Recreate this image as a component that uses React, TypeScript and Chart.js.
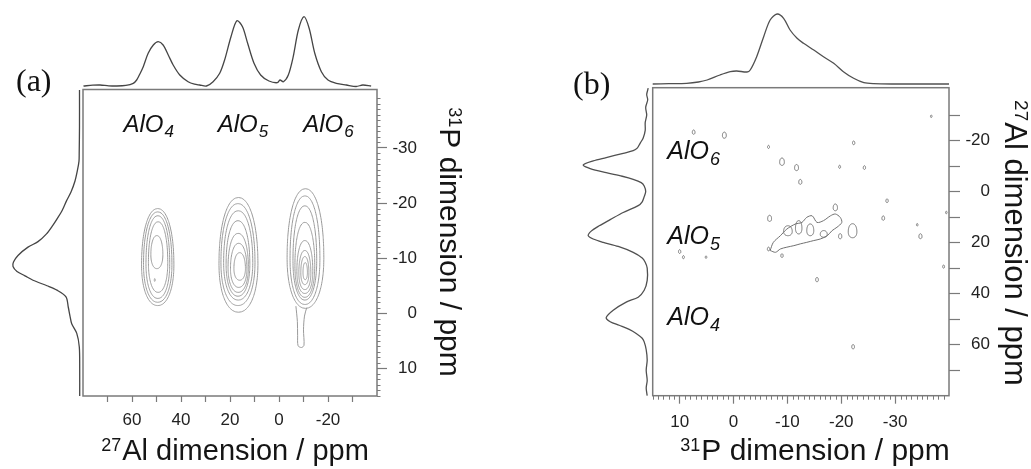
import React, { useEffect, useRef } from 'react';
import { Chart, registerables } from 'chart.js';

Chart.register(...registerables);

const SANS = '"Liberation Sans", Arial, Helvetica, sans-serif';
const SERIF = '"Liberation Serif", "Times New Roman", Times, serif';

// ---------- Panel (a): 27Al (x) vs 31P (y) ----------
// 27Al projection on top: chemical shift (ppm) and intensity
const A_TOP_PPM = [79.8, 76, 73, 69.5, 66.2, 62.5, 59.5, 58.1, 56.8, 55.4, 53.4, 51.3, 49.3, 47.3, 45.2, 43.2, 40.5, 37.1, 34.5, 32.4, 29.6, 26.9, 24.2, 22.2, 19.6, 17.2, 14.9, 12.8, 10.2, 7.5, 4.1, 0.7, -0.4, -1.8, -3.8, -5.8, -7.9, -10.2, -12.3, -14.6, -17.3, -20, -23.4, -27.5, -31.5, -34.2, -37.6];
const A_TOP_INT = [0, 0.8, 1, 0.2, 0, 0.6, 2.7, 6, 12, 19.3, 32.7, 41, 44.3, 41, 31, 21, 11, 4.3, 1.8, 1, 0, 4.3, 12.7, 26, 49.3, 65.3, 59.3, 42.7, 22.7, 11, 5, 3.3, 6, 4.3, 11, 29.3, 56, 69.3, 57.7, 32.7, 14.3, 6, 2.7, 1, -0.5, 1, 0];

// 31P projection on the left: chemical shift (ppm) and intensity
const A_LEFT_PPM = [-40.5, -34, -29, -27.6, -26, -24, -22, -20.4, -18.8, -17.4, -16, -14.4, -13, -12, -10.5, -9.3, -8.5, -7.6, -6.8, -6, -5, -4.2, -3, -1.1, 0.5, 1.9, 3.6, 6.1, 10, 15];
const A_LEFT_INT = [0.5, 0.5, 0.8, 1, 2.5, 5, 9, 13.5, 17.5, 22, 27, 33.5, 42, 52, 62, 66.5, 67, 63, 55, 47, 33, 23, 14, 11.7, 10, 8.3, 3.3, 0.7, 0.3, 0.3];

// Contour rings: [27Al high edge, 27Al low edge, 31P top edge, 31P bottom edge] in ppm
const A_RINGS_ALO4: [number, number, number, number][] = [
  [56.1, 42.9, -19.0, -1.4],
  [55.3, 43.7, -18.4, -2.0],
  [54.3, 44.6, -17.7, -2.7],
  [53.3, 45.4, -16.6, -3.8],
  [52.3, 47.4, -14.1, -8.1],
  [50.9, 50.5, -6.3, -5.8],
];
const A_RINGS_ALO5: [number, number, number, number][] = [
  [24.5, 8.6, -21.0, -0.2],
  [23.7, 9.8, -19.9, -1.4],
  [22.6, 10.7, -18.6, -2.4],
  [21.6, 11.9, -16.8, -3.1],
  [20.8, 12.5, -14.5, -3.8],
  [19.8, 13.1, -12.7, -4.7],
  [18.4, 13.7, -11.0, -6.0],
];
const A_RINGS_ALO6: [number, number, number, number][] = [
  [-3.3, -18.3, -22.6, -0.9],
  [-4.5, -16.7, -21.3, -1.6],
  [-5.7, -15.4, -19.5, -2.4],
  [-6.5, -14.6, -16.5, -2.9],
  [-7.3, -13.8, -13.2, -3.6],
  [-8.1, -13.0, -11.4, -4.3],
  [-8.9, -12.2, -10.3, -5.2],
  [-9.8, -11.6, -9.2, -6.1],
];
// narrow extension below the AlO6 cross peak
const A_TAIL_X = [-6.9, -7.5, -7.6, -7.8, -9.2, -10.2, -10.0, -10.4, -11.3];
const A_TAIL_Y = [-1.3, 1.5, 4.0, 5.9, 6.2, 5.8, 3.0, 0.5, -1.0];

const A_X_TICKS = [70, 60, 50, 40, 30, 20, 10, 0, -10, -20, -30];
const A_X_LABELS = [60, 40, 20, 0, -20];
const A_Y_TICKS = [-30, -20, -10, 0, 10];
const A_Y_LABELS = [-30, -20, -10, 0, 10];

const A_SITE_SUBS = ['4', '5', '6'];
const A_SITE_X = [63.5, 25, -9.9];
const A_SITE_Y = [-32.8, -32.8, -32.8];

// ---------- Panel (b): 31P (x) vs 27Al (y) ----------
const B_TOP_PPM = [15, 12, 8.7, 6.5, 4.9, 2.5, 0.6, -0.6, -2.5, -3.1, -4.3, -5.6, -6.8, -8.1, -9.3, -10.5, -11.8, -13, -14.9, -16.7, -18.6, -20.4, -22.3, -24.2, -26, -30, -35, -40];
const B_TOP_INT = [0, 0.3, 0.7, 2, 4, 9, 12.3, 13, 12, 14, 27.3, 47.3, 64, 70, 65.7, 54, 45.7, 40.7, 34, 27.3, 20.7, 12.3, 5.7, 1.3, 0.3, 0, 0, 0];

const B_LEFT_PPM = [-40.5, -38, -36, -33, -30, -27, -24, -21, -19, -17, -16, -15, -13.3, -12, -10.4, -9, -7.4, -6, -4.8, -3.5, -2.2, 0, 2, 4, 5.5, 8.2, 11, 13.4, 15.5, 17.3, 18.6, 19.9, 21.5, 23.8, 26, 27.7, 30, 34.8, 38.7, 41.4, 43.3, 46.5, 49.4, 51, 52.4, 54, 55.6, 57.5, 58.9, 62, 66, 70, 74, 77, 80];
const B_LEFT_INT = [0, 1.5, 0.5, 2.5, 1.5, 3, 3, 5, 8, 11, 15, 25, 42, 55, 65, 58, 42, 26, 15, 7, 4, 2.5, 4, 6, 10, 25, 38, 49, 57, 60, 55, 45, 30, 15, 6, 3, 1, 1, 4, 10, 22, 35, 42, 38, 29, 19, 12, 6, 4, 2, 1, 2, 1, 2, 1];

// main cross-peak outline near the AlO5 row (31P ppm, 27Al ppm)
const B_BLOB_X = [-6.8, -7.4, -8.7, -9.9, -11.5, -12.7, -13.6, -14.6, -15.5, -16.7, -18.0, -18.9, -19.8, -20.1, -19.2, -18.3, -17.4, -16.1, -14.9, -13.6, -12.4, -11.2, -9.9, -8.7, -7.8, -6.8];
const B_BLOB_Y = [23.1, 19.9, 17.3, 14.7, 12.7, 12.1, 10.1, 9.5, 12.1, 11.4, 9.5, 8.8, 10.1, 12.1, 14.0, 15.3, 17.3, 18.6, 19.2, 19.9, 20.5, 21.2, 21.8, 22.5, 23.8, 23.1];
// small closed loops inside and beside the cross peak
const B_LOOPS: [number, number, number, number][] = [
  [-9.3, -10.9, 13.4, 17.3],
  [-11.5, -12.7, 11.4, 16.6],
  [-13.6, -14.9, 12.7, 17.3],
  [-16.1, -17.4, 15.3, 17.9],
  [-19.5, -20.1, 16.5, 18.5],
  [-21.3, -22.9, 12.6, 18.1],
];
// isolated noise contours: [31P ppm, 27Al ppm, size]
const B_DOTS: [number, number, number][] = [
  [7.4, -23.3, 0.7], [1.7, -22.1, 1], [-6.5, -17.5, 0.5], [-22.3, -19.1, 0.6], [-36.7, -29.5, 0.4],
  [-9.0, -11.7, 1.2], [-11.7, -9.4, 1], [-19.7, -9.7, 0.5], [-24.3, -9.4, 0.6], [-12.4, -3.8, 0.8],
  [-28.5, 3.6, 0.6], [-27.8, 10.4, 0.7], [-34.1, 13.0, 0.4], [-34.7, 17.5, 0.8], [-39.0, 29.4, 0.5],
  [-15.5, 34.5, 0.7], [-22.2, 60.8, 0.7], [10.0, 23.5, 0.6], [9.3, 25.7, 0.5], [5.1, 25.7, 0.4],
  [-6.5, 22.5, 0.6], [-9.0, 25.1, 0.6], [-39.5, 8.2, 0.4], [-6.7, 10.5, 1], [-18.9, 6.2, 1.1],
];

const B_X_TICKS = [10, 0, -10, -20, -30];
const B_X_LABELS = [10, 0, -10, -20, -30];
const B_Y_TICKS = [-30, -20, -10, 0, 10, 20, 30, 40, 50, 60, 70];
const B_Y_LABELS = [-20, 0, 20, 40, 60];

const B_SITE_SUBS = ['6', '5', '4'];
const B_SITE_X = [12.3, 12.3, 12.3];
const B_SITE_Y = [-12.6, 20.5, 52.4];

// ---------- helpers ----------
type Ring = [number, number, number, number];
type Pt = { x: number; y: number };

// Closed rounded outline through the four extents of a contour ring
function ringPoints(r: Ring): Pt[] {
  const [xHi, xLo, yTop, yBot] = r;
  const cx = (xHi + xLo) / 2;
  const rx = (xHi - xLo) / 2;
  const yc = yBot - 0.42 * (yBot - yTop);
  const ex = 2 / 2.15;
  const pts: Pt[] = [];
  const n = 44;
  for (let i = 0; i <= n; i++) {
    const t = (i / n) * Math.PI * 2;
    const c = Math.cos(t);
    const s = Math.sin(t);
    const ry = s < 0 ? yc - yTop : yBot - yc;
    pts.push({
      x: cx + rx * Math.sign(c) * Math.pow(Math.abs(c), ex),
      y: yc + ry * Math.sign(s) * Math.pow(Math.abs(s), ex),
    });
  }
  return pts;
}

function zip(xs: number[], ys: number[]): Pt[] {
  return xs.map((x, i) => ({ x, y: ys[i] }));
}

function drawSupText(ctx: CanvasRenderingContext2D, t: any) {
  ctx.save();
  ctx.translate(t.x, t.y);
  if (t.rotate) ctx.rotate(Math.PI / 2);
  ctx.fillStyle = '#151515';
  ctx.textBaseline = 'alphabetic';
  ctx.textAlign = 'left';
  ctx.font = `${t.supSize}px ${SANS}`;
  const ws = ctx.measureText(t.sup).width;
  ctx.font = `${t.size}px ${SANS}`;
  const wm = ctx.measureText(t.text).width;
  const x0 = -(ws + t.gap + wm) / 2;
  ctx.font = `${t.supSize}px ${SANS}`;
  ctx.fillText(t.sup, x0, -t.rise);
  ctx.font = `${t.size}px ${SANS}`;
  ctx.fillText(t.text, x0 + ws + t.gap, 0);
  ctx.restore();
}

const decorPlugin = {
  id: 'decor',
  afterDraw(chart: any, _args: any, opts: any) {
    const { ctx, chartArea: a, scales } = chart;
    const xs = scales.x;
    const ys = scales.y;
    ctx.save();
    // plot frame
    ctx.strokeStyle = opts.frameColor;
    ctx.lineWidth = opts.frameWidth;
    ctx.strokeRect(a.left, a.top, a.right - a.left, a.bottom - a.top);

    // minor ticks every 1 ppm
    ctx.lineWidth = 1;
    ctx.strokeStyle = opts.frameColor;
    for (const m of opts.minor) {
      const sc = m.axis === 'x' ? xs : ys;
      for (let v = m.from; v <= m.to; v += 1) {
        if (v % 10 === 0) continue;
        const p = Math.round(sc.getPixelForValue(v)) + 0.5;
        ctx.beginPath();
        if (m.axis === 'x') {
          ctx.moveTo(p, a.bottom);
          ctx.lineTo(p, a.bottom + m.len);
        } else {
          ctx.moveTo(a.right, p);
          ctx.lineTo(a.right + m.len, p);
        }
        ctx.stroke();
      }
    }

    // site labels
    ctx.fillStyle = '#111';
    ctx.textBaseline = 'alphabetic';
    ctx.textAlign = 'left';
    const L = opts.sites;
    for (let i = 0; i < L.subs.length; i++) {
      const px = xs.getPixelForValue(L.x[i]);
      const py = ys.getPixelForValue(L.y[i]);
      ctx.font = `italic ${L.size}px ${SANS}`;
      ctx.fillText('AlO', px, py);
      const w = ctx.measureText('AlO').width;
      ctx.font = `italic ${L.subSize}px ${SANS}`;
      ctx.fillText(L.subs[i], px + w + 1, py + L.drop);
    }

    // axis titles
    for (const t of opts.titles) drawSupText(ctx, t);

    // panel letter
    ctx.font = `${opts.panel.size}px ${SERIF}`;
    ctx.fillStyle = '#111';
    ctx.fillText(opts.panel.text, opts.panel.x, opts.panel.y);
    ctx.restore();
  },
};

const X_AXIS_H = 40;
const CANVAS_H = 469;

function buildConfig(s: any) {
  const W = s.area.right - s.area.left;
  const H = s.area.bottom - s.area.top;
  // a small tension keeps Chart.js on its full path renderer for closed loops
  const contourStyle = {
    xAxisID: 'x',
    yAxisID: 'y',
    showLine: true,
    pointRadius: 0,
    borderColor: s.contourColor,
    borderWidth: 1,
    tension: 0.12,
    fill: false,
  };
  const datasets: any[] = [
    ...s.contours.map((pts: Pt[]) => ({ ...contourStyle, data: pts })),
    ...s.openLines.map((pts: Pt[]) => ({ ...contourStyle, data: pts, tension: 0.3 })),
    {
      data: zip(s.topPpm, s.topInt),
      xAxisID: 'x',
      yAxisID: 'yT',
      showLine: true,
      pointRadius: 0,
      borderColor: s.projColor,
      borderWidth: 1.3,
      tension: 0.3,
      clip: false,
    },
    {
      data: s.leftPpm.map((p: number, i: number) => ({ x: s.leftInt[i], y: p })),
      xAxisID: 'xL',
      yAxisID: 'y',
      showLine: true,
      pointRadius: 0,
      borderColor: s.projColor,
      borderWidth: 1.3,
      tension: 0.3,
      clip: false,
    },
  ];
  const tickFont = { family: SANS, size: 17 };
  return {
    type: 'scatter' as const,
    data: { datasets },
    options: {
      animation: false,
      responsive: false,
      maintainAspectRatio: false,
      devicePixelRatio: 1,
      events: [],
      layout: {
        padding: {
          left: s.area.left,
          top: s.area.top,
          right: s.width - s.area.right - s.yAxisW,
          bottom: CANVAS_H - s.area.bottom - X_AXIS_H,
        },
      },
      plugins: {
        legend: { display: false },
        tooltip: { enabled: false },
        decor: s.decor,
      },
      scales: {
        x: {
          type: 'linear',
          position: 'bottom',
          min: s.xMin,
          max: s.xMax,
          reverse: true,
          afterBuildTicks: (sc: any) => {
            sc.ticks = s.xTicks.map((v: number) => ({ value: v }));
          },
          afterFit: (sc: any) => {
            sc.height = X_AXIS_H;
          },
          grid: {
            drawOnChartArea: false,
            drawTicks: true,
            tickLength: s.xTickLen,
            color: '#7a7a7a',
            tickWidth: 1.2,
          },
          border: { display: false },
          ticks: {
            autoSkip: false,
            maxRotation: 0,
            padding: 8,
            color: '#222',
            font: tickFont,
            callback: (v: number) => (s.xLabels.includes(v) ? String(v) : ''),
          },
        },
        y: {
          type: 'linear',
          position: 'right',
          min: s.yMin,
          max: s.yMax,
          reverse: true,
          afterBuildTicks: (sc: any) => {
            sc.ticks = s.yTicks.map((v: number) => ({ value: v }));
          },
          // labels are right-aligned against the outer edge of this axis box
          afterFit: (sc: any) => {
            sc.width = s.yAxisW;
          },
          grid: {
            drawOnChartArea: false,
            drawTicks: true,
            tickLength: s.yTickLen,
            color: '#7a7a7a',
            tickWidth: 1.2,
          },
          border: { display: false },
          ticks: {
            autoSkip: false,
            padding: 5,
            crossAlign: 'far',
            color: '#222',
            font: tickFont,
            callback: (v: number) => (s.yLabels.includes(v) ? String(v) : ''),
          },
        },
        // intensity scale of the top projection (1 unit = 1 px above the frame)
        yT: {
          type: 'linear',
          axis: 'y',
          display: false,
          min: -s.topGap - H,
          max: -s.topGap,
        },
        // intensity scale of the left projection (1 unit = 1 px left of the frame)
        xL: {
          type: 'linear',
          axis: 'x',
          display: false,
          reverse: true,
          min: -s.leftGap - W,
          max: -s.leftGap,
        },
      },
    },
    plugins: [decorPlugin],
  };
}

const panelA = {
  width: 515,
  area: { left: 83, top: 89.5, right: 377, bottom: 396 },
  yAxisW: 40,
  xMin: -40,
  xMax: 80,
  yMin: -40.6,
  yMax: 15,
  xTicks: A_X_TICKS,
  xLabels: A_X_LABELS,
  yTicks: A_Y_TICKS,
  yLabels: A_Y_LABELS,
  xTickLen: 6,
  yTickLen: 10,
  topPpm: A_TOP_PPM,
  topInt: A_TOP_INT,
  topGap: 3.5,
  leftPpm: A_LEFT_PPM,
  leftInt: A_LEFT_INT,
  leftGap: 3,
  contourColor: '#9a9a9a',
  projColor: '#454545',
  contours: [...A_RINGS_ALO4, ...A_RINGS_ALO5, ...A_RINGS_ALO6].map(ringPoints),
  openLines: [zip(A_TAIL_X, A_TAIL_Y)],
  decor: {
    frameColor: '#7a7a7a',
    frameWidth: 1.5,
    minor: [{ axis: 'y', from: -40, to: 15, len: 3.5 }],
    sites: { subs: A_SITE_SUBS, x: A_SITE_X, y: A_SITE_Y, size: 24, subSize: 17, drop: 5 },
    titles: [
      { sup: '27', text: 'Al dimension / ppm', x: 235, y: 460, size: 29, supSize: 18, rise: 9, gap: 1, rotate: false },
      { sup: '31', text: 'P dimension / ppm', x: 440, y: 242, size: 30, supSize: 18, rise: 9, gap: 1, rotate: true },
    ],
    panel: { text: '(a)', x: 16, y: 91, size: 32 },
  },
};

const panelB = {
  width: 516,
  area: { left: 137.7, top: 87.7, right: 434, bottom: 395.7 },
  yAxisW: 41,
  xMin: -40,
  xMax: 15,
  yMin: -40.7,
  yMax: 80,
  xTicks: B_X_TICKS,
  xLabels: B_X_LABELS,
  yTicks: B_Y_TICKS,
  yLabels: B_Y_LABELS,
  xTickLen: 8,
  yTickLen: 11,
  topPpm: B_TOP_PPM,
  topInt: B_TOP_INT,
  topGap: 3.7,
  leftPpm: B_LEFT_PPM,
  leftInt: B_LEFT_INT,
  leftGap: 4.5,
  contourColor: '#707070',
  projColor: '#505050',
  contours: [
    ...B_LOOPS.map(ringPoints),
    ...B_DOTS.map(([x, y, k]) => ringPoints([x + 0.36 * k, x - 0.36 * k, y - 1.2 * k, y + 1.2 * k])),
  ],
  openLines: [zip(B_BLOB_X, B_BLOB_Y)],
  decor: {
    frameColor: '#7a7a7a',
    frameWidth: 1.5,
    minor: [{ axis: 'x', from: -40, to: 15, len: 4 }],
    sites: { subs: B_SITE_SUBS, x: B_SITE_X, y: B_SITE_Y, size: 25, subSize: 18, drop: 6 },
    titles: [
      { sup: '31', text: 'P dimension / ppm', x: 300, y: 460, size: 30, supSize: 18, rise: 9, gap: 1, rotate: false },
      { sup: '27', text: 'Al dimension / ppm', x: 490, y: 243, size: 31, supSize: 19, rise: 10, gap: 1, rotate: true },
    ],
    panel: { text: '(b)', x: 58, y: 94, size: 32 },
  },
};

function Panel({ spec, left }: { spec: any; left: number }) {
  const ref = useRef<HTMLCanvasElement>(null);
  useEffect(() => {
    const chart = new Chart(ref.current as HTMLCanvasElement, buildConfig(spec) as any);
    return () => chart.destroy();
  }, [spec]);
  return (
    <canvas
      ref={ref}
      width={spec.width}
      height={CANVAS_H}
      style={{ position: 'absolute', left, top: 0, width: spec.width, height: CANVAS_H }}
    />
  );
}

export default function App() {
  return (
    <div
      style={{
        position: 'fixed',
        left: 0,
        top: 0,
        width: 1031,
        height: CANVAS_H,
        background: '#ffffff',
        overflow: 'hidden',
      }}
    >
      <Panel spec={panelA} left={0} />
      <Panel spec={panelB} left={515} />
    </div>
  );
}
